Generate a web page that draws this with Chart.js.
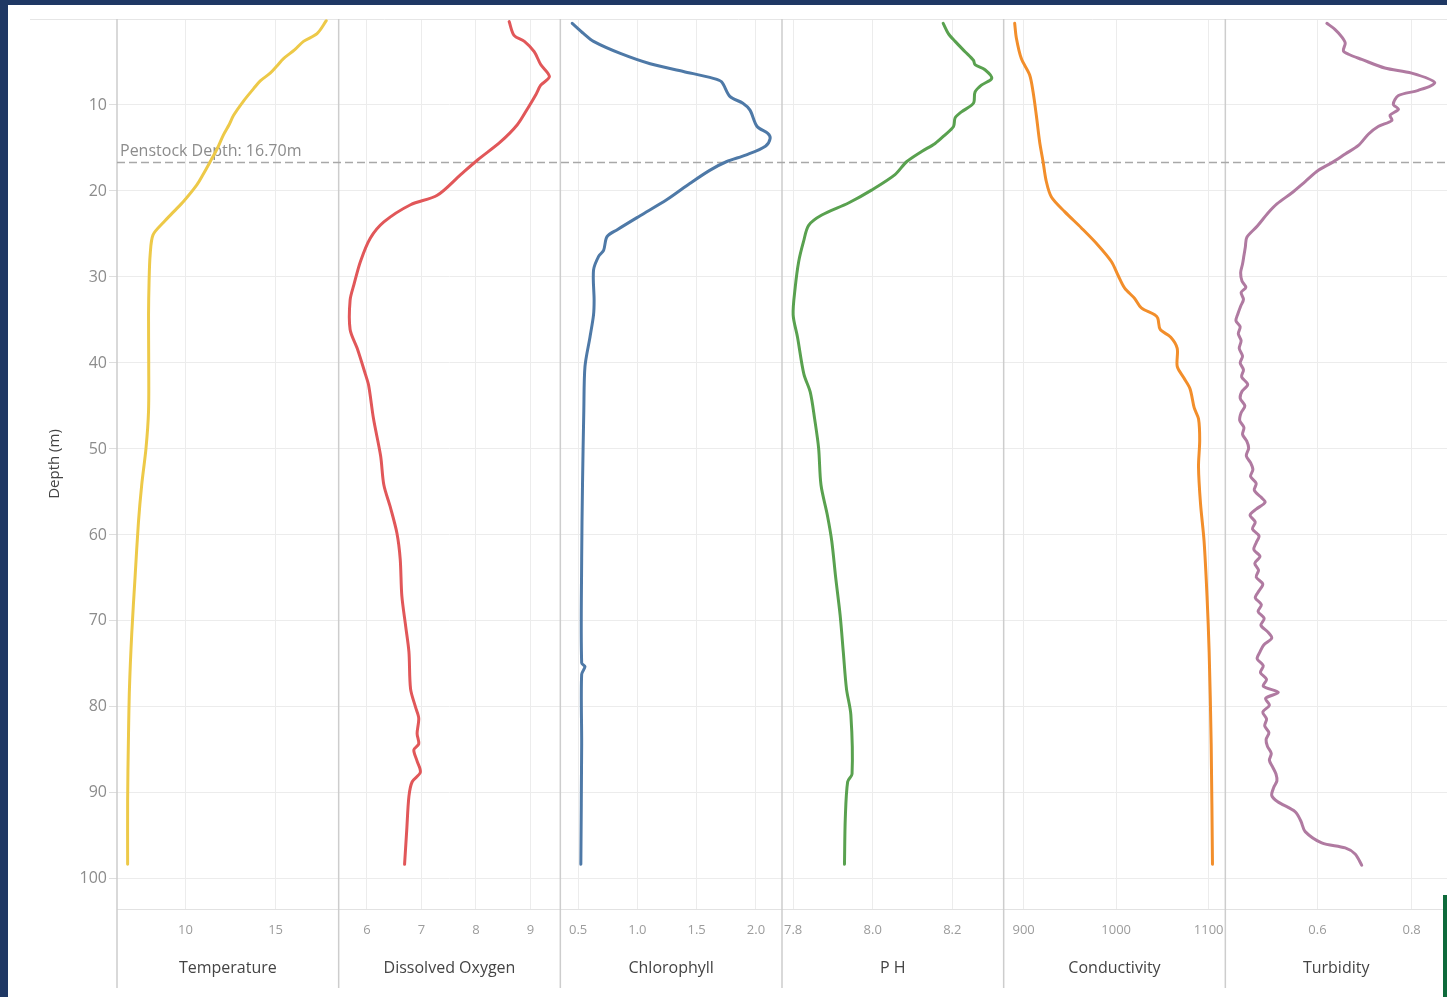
<!DOCTYPE html>
<html>
<head>
<meta charset="utf-8">
<script src="https://cdn.jsdelivr.net/npm/chart.js@4.4.1/dist/chart.umd.min.js"></script>
<style>
  html, body { margin: 0; padding: 0; width: 1447px; height: 997px; overflow: hidden; background: #1f3864; }
  #sheet { position: absolute; left: 8px; top: 5px; width: 1439px; height: 992px; background: #ffffff; }
  #chart { position: absolute; left: 0; top: 0; }
  #edge { position: absolute; left: 1443px; top: 895px; width: 4px; height: 102px; background: #0e6b3b; }
</style>
</head>
<body>
<div id="sheet"><canvas id="chart" width="1439" height="992"></canvas></div>
<div id="edge"></div>
<script>
// Water-column profile: six parameters against depth (m)
const FONT = "'Open Sans', 'Lato', sans-serif";

const depthTicks = [10, 20, 30, 40, 50, 60, 70, 80, 90, 100];
const penstockDepth = 16.70;

// Temperature (°C)
const temperatureDepth = [0.2, 1.7, 2.6, 3.6, 4.6, 5.4, 6.3, 7.2, 8.1, 9.6, 11.2, 12.3, 13.5, 15.0, 16.6, 18.0, 19.3, 21.2, 22.4, 23.6, 25.1, 27.4, 30.5, 34.4, 40.0, 45.6, 49.9, 54.2, 58.5, 65.0, 71.4, 77.9, 84.3, 90.8, 98.3];
const temperatureValue = [17.81, 17.30, 16.55, 16.05, 15.44, 15.10, 14.70, 14.15, 13.78, 13.20, 12.67, 12.42, 12.10, 11.78, 11.37, 11.00, 10.63, 9.90, 9.35, 8.80, 8.20, 8.04, 7.98, 7.95, 7.96, 7.95, 7.81, 7.57, 7.39, 7.20, 7.02, 6.89, 6.83, 6.79, 6.79];
const temperatureTicks = [10, 15];

// Dissolved oxygen (mg/L)
const oxygenDepth = [0.3, 1.9, 2.6, 3.8, 5.3, 6.7, 7.7, 8.8, 10.4, 12.3, 14.3, 16.4, 18.1, 20.5, 21.6, 23.6, 25.5, 28.2, 30.9, 32.7, 36.1, 38.3, 41.3, 42.6, 46.5, 50.8, 54.2, 56.8, 59.8, 62.8, 67.1, 70.6, 73.6, 77.9, 80.0, 81.3, 83.1, 84.3, 85.0, 86.3, 87.6, 88.7, 90.4, 94.3, 98.3];
const oxygenValue = [8.61, 8.70, 8.89, 9.07, 9.19, 9.35, 9.19, 9.10, 8.95, 8.76, 8.45, 8.03, 7.72, 7.29, 6.80, 6.31, 6.06, 5.88, 5.76, 5.69, 5.69, 5.82, 5.97, 6.03, 6.12, 6.25, 6.31, 6.43, 6.55, 6.61, 6.64, 6.71, 6.77, 6.80, 6.89, 6.95, 6.92, 6.95, 6.86, 6.92, 6.98, 6.83, 6.77, 6.73, 6.69];
const oxygenTicks = [6, 7, 8, 9];

// Chlorophyll (µg/L)
const chlorophyllDepth = [0.5, 1.7, 2.6, 4.0, 5.2, 6.1, 6.9, 7.3, 9.0, 9.8, 10.6, 12.5, 13.3, 13.9, 14.8, 15.8, 16.6, 17.6, 19.1, 21.0, 22.9, 24.5, 25.3, 26.9, 27.6, 29.2, 32.7, 34.4, 37.0, 40.4, 45.6, 54.2, 62.8, 74.9, 75.3, 76.2, 84.3, 98.3];
const chlorophyllValue = [0.45, 0.547, 0.63, 0.856, 1.108, 1.388, 1.64, 1.71, 1.78, 1.89, 1.95, 2.01, 2.10, 2.12, 2.08, 1.92, 1.75, 1.61, 1.445, 1.25, 1.02, 0.83, 0.744, 0.715, 0.673, 0.63, 0.635, 0.63, 0.60, 0.558, 0.548, 0.537, 0.53, 0.53, 0.558, 0.53, 0.53, 0.523];
const chlorophyllTicks = [0.5, 1.0, 1.5, 2.0];

// pH
const phDepth = [0.5, 1.7, 2.6, 3.8, 4.8, 5.3, 5.9, 6.9, 7.7, 8.5, 9.8, 10.8, 11.5, 12.5, 13.5, 14.5, 15.4, 16.6, 18.1, 19.9, 21.4, 22.8, 24.0, 25.9, 28.2, 31.3, 34.4, 37.0, 41.3, 43.4, 46.5, 49.9, 54.2, 57.7, 60.7, 65.0, 69.3, 73.6, 77.9, 80.9, 87.8, 88.7, 93.0, 98.3];
const phValue = [8.177, 8.190, 8.207, 8.232, 8.253, 8.257, 8.282, 8.299, 8.273, 8.257, 8.253, 8.223, 8.207, 8.203, 8.181, 8.156, 8.123, 8.085, 8.056, 7.997, 7.939, 7.872, 7.839, 7.826, 7.814, 7.805, 7.800, 7.811, 7.827, 7.843, 7.854, 7.864, 7.870, 7.886, 7.897, 7.907, 7.918, 7.926, 7.934, 7.945, 7.948, 7.937, 7.931, 7.929];
const phTicks = [7.8, 8.0, 8.2];

// Conductivity (µS/cm)
const conductivityDepth = [0.5, 2.2, 4.6, 6.5, 8.5, 11.2, 14.3, 16.6, 18.9, 20.7, 22.4, 24.3, 26.3, 28.2, 29.8, 31.3, 32.5, 33.6, 34.4, 34.8, 36.1, 37.0, 38.3, 40.4, 41.7, 43.0, 45.2, 46.5, 49.0, 52.1, 56.4, 60.7, 67.1, 73.6, 84.3, 98.3];
const conductivityValue = [890.3, 892.1, 897.5, 906.5, 910.2, 913.7, 917.3, 921.0, 924.5, 930.0, 944.3, 962.4, 980.4, 994.8, 1002.0, 1009.2, 1020.0, 1027.2, 1041.6, 1045.0, 1047.6, 1059.0, 1066.0, 1066.0, 1072.9, 1079.8, 1084.3, 1089.0, 1090.3, 1089.0, 1091.2, 1095.0, 1098.2, 1100.5, 1102.7, 1104.1];
const conductivityTicks = [900, 1000, 1100];

// Turbidity (NTU)
const turbidityDepth = [0.5, 1.2, 2.1, 2.8, 3.7, 4.1, 4.7, 5.7, 6.3, 7.4, 8.3, 8.9, 9.9, 10.5, 11.2, 11.8, 12.5, 13.4, 14.7, 15.7, 16.7, 17.6, 18.9, 20.2, 21.5, 22.5, 24.1, 25.4, 26.5, 27.5, 28.5, 29.5, 30.5, 31.2, 31.8, 32.6, 33.4, 34.3, 35.1, 35.8, 36.6, 37.4, 38.3, 39.2, 40.0, 40.8, 41.6, 42.5, 43.3, 44.1, 45.0, 45.8, 46.7, 47.5, 48.3, 49.1, 49.9, 50.8, 51.6, 52.4, 53.2, 54.0, 54.8, 55.6, 56.2, 57.0, 57.7, 58.5, 59.3, 60.1, 60.9, 61.7, 62.5, 63.3, 64.1, 64.9, 65.7, 66.5, 67.3, 68.1, 68.9, 69.7, 70.5, 71.3, 72.0, 72.8, 73.6, 74.4, 75.2, 76.0, 76.8, 77.6, 78.3, 79.0, 79.8, 80.6, 81.4, 82.2, 83.0, 83.8, 84.6, 85.4, 86.2, 87.0, 87.8, 88.6, 89.4, 90.3, 91.0, 92.2, 93.3, 94.5, 95.8, 96.4, 97.1, 98.4];
const turbidityValue = [0.620, 0.637, 0.652, 0.659, 0.655, 0.666, 0.694, 0.743, 0.800, 0.849, 0.814, 0.772, 0.761, 0.772, 0.754, 0.758, 0.729, 0.708, 0.687, 0.659, 0.631, 0.602, 0.574, 0.546, 0.514, 0.496, 0.472, 0.450, 0.447, 0.444, 0.441, 0.437, 0.440, 0.448, 0.438, 0.443, 0.437, 0.431, 0.427, 0.436, 0.432, 0.438, 0.434, 0.441, 0.436, 0.443, 0.439, 0.452, 0.440, 0.436, 0.446, 0.438, 0.435, 0.444, 0.441, 0.450, 0.454, 0.449, 0.458, 0.463, 0.458, 0.470, 0.466, 0.480, 0.489, 0.470, 0.457, 0.468, 0.462, 0.476, 0.470, 0.465, 0.478, 0.467, 0.475, 0.470, 0.484, 0.476, 0.468, 0.481, 0.474, 0.487, 0.480, 0.495, 0.503, 0.486, 0.478, 0.472, 0.485, 0.479, 0.492, 0.485, 0.517, 0.490, 0.498, 0.484, 0.492, 0.488, 0.497, 0.491, 0.494, 0.502, 0.498, 0.505, 0.512, 0.514, 0.507, 0.503, 0.515, 0.553, 0.565, 0.574, 0.609, 0.659, 0.680, 0.694];
const turbidityTicks = [0.6, 0.8];

const panels = [
  { id: 'x0', title: 'Temperature',      depth: temperatureDepth,  values: temperatureValue,  ticks: temperatureTicks,  min: 6.2,   max: 18.5,  digits: 0, color: '#edc948' },
  { id: 'x1', title: 'Dissolved Oxygen', depth: oxygenDepth,       values: oxygenValue,       ticks: oxygenTicks,       min: 5.48,  max: 9.55,  digits: 0, color: '#e15759' },
  { id: 'x2', title: 'Chlorophyll',      depth: chlorophyllDepth,  values: chlorophyllValue,  ticks: chlorophyllTicks,  min: 0.35,  max: 2.22,  digits: 1, color: '#4e79a7' },
  { id: 'x3', title: 'P H',              depth: phDepth,           values: phValue,           ticks: phTicks,           min: 7.772, max: 8.329, digits: 1, color: '#59a14f' },
  { id: 'x4', title: 'Conductivity',     depth: conductivityDepth, values: conductivityValue, ticks: conductivityTicks, min: 878.4, max: 1118,  digits: 0, color: '#f28e2b' },
  { id: 'x5', title: 'Turbidity',        depth: turbidityDepth,    values: turbidityValue,    ticks: turbidityTicks,    min: 0.4045,max: 0.875, digits: 1, color: '#b07aa1' }
];

const scales = {
  y: {
    type: 'linear', position: 'left', reverse: true, min: 0, max: 103.5,
    afterBuildTicks: s => { s.ticks = depthTicks.map(v => ({ value: v })); },
    afterFit: s => { s.width = 109; s.paddingTop = 0; s.paddingBottom = 0; },
    grid: { color: '#ececec', lineWidth: 1, drawTicks: true, tickLength: 8, tickColor: '#dedede' },
    border: { display: false },
    ticks: { color: '#8c8c8c', font: { family: FONT, size: 16 }, padding: 2 },
    title: { display: true, text: 'Depth (m)', color: '#444', font: { family: FONT, size: 15 }, padding: { top: 38, bottom: 0 } }
  }
};

panels.forEach(p => {
  scales[p.id] = {
    type: 'linear', axis: 'x', position: 'bottom', stack: 'panels', stackWeight: 1,
    min: p.min, max: p.max,
    afterBuildTicks: s => { s.ticks = p.ticks.map(v => ({ value: v })); },
    afterFit: s => { s.height = 88; s.paddingLeft = 0; s.paddingRight = 0; },
    grid: { color: '#ececec', lineWidth: 1, drawTicks: false },
    border: { display: true, color: '#e2e2e2', width: 1 },
    ticks: { color: '#9c9c9c', font: { family: FONT, size: 13 }, padding: 13, maxRotation: 0, autoSkip: false,
             callback: v => Number(v).toFixed(p.digits) },
    title: { display: true, text: p.title, color: '#444', font: { family: FONT, size: 16 }, padding: { top: 0, bottom: 19 } }
  };
});

// Panel dividers, top rule and the penstock reference line
const panelFrame = {
  id: 'panelFrame',
  beforeDatasetsDraw(chart) {
    const { ctx, chartArea } = chart;
    ctx.save();
    ctx.strokeStyle = '#e6e6e6';
    ctx.lineWidth = 1;
    ctx.beginPath();
    ctx.moveTo(22, chartArea.top + 0.5);
    ctx.lineTo(chartArea.right, chartArea.top + 0.5);
    ctx.stroke();

    ctx.strokeStyle = '#cdcdcd';
    ctx.lineWidth = 1.5;
    panels.forEach(p => {
      const s = chart.scales[p.id];
      ctx.beginPath();
      ctx.moveTo(s.left, chartArea.top);
      ctx.lineTo(s.left, chart.height - 9);
      ctx.stroke();
    });

    const yPix = chart.scales.y.getPixelForValue(penstockDepth);
    ctx.strokeStyle = '#a8a8a8';
    ctx.lineWidth = 1.5;
    ctx.setLineDash([8, 4]);
    ctx.beginPath();
    ctx.moveTo(chartArea.left, yPix);
    ctx.lineTo(chartArea.right, yPix);
    ctx.stroke();
    ctx.setLineDash([]);

    ctx.fillStyle = '#8c8c8c';
    ctx.font = `16px ${FONT}`;
    ctx.textAlign = 'left';
    ctx.textBaseline = 'alphabetic';
    ctx.fillText(`Penstock Depth: ${penstockDepth.toFixed(2)}m`, chartArea.left + 3, yPix - 7);
    ctx.restore();
  }
};

new Chart(document.getElementById('chart'), {
  type: 'line',
  data: {
    datasets: panels.map(p => ({
      label: p.title,
      xAxisID: p.id,
      yAxisID: 'y',
      data: p.depth.map((d, i) => ({ x: p.values[i], y: d })),
      borderColor: p.color,
      borderWidth: 3,
      pointRadius: 0,
      fill: false,
      tension: 0.3,
      borderJoinStyle: 'round',
      borderCapStyle: 'round'
    }))
  },
  options: {
    responsive: false,
    animation: false,
    devicePixelRatio: 1,
    layout: { padding: { top: 14, right: 0, bottom: 0, left: 0 } },
    plugins: { legend: { display: false }, tooltip: { enabled: false } },
    scales
  },
  plugins: [panelFrame]
});
</script>
</body>
</html>
